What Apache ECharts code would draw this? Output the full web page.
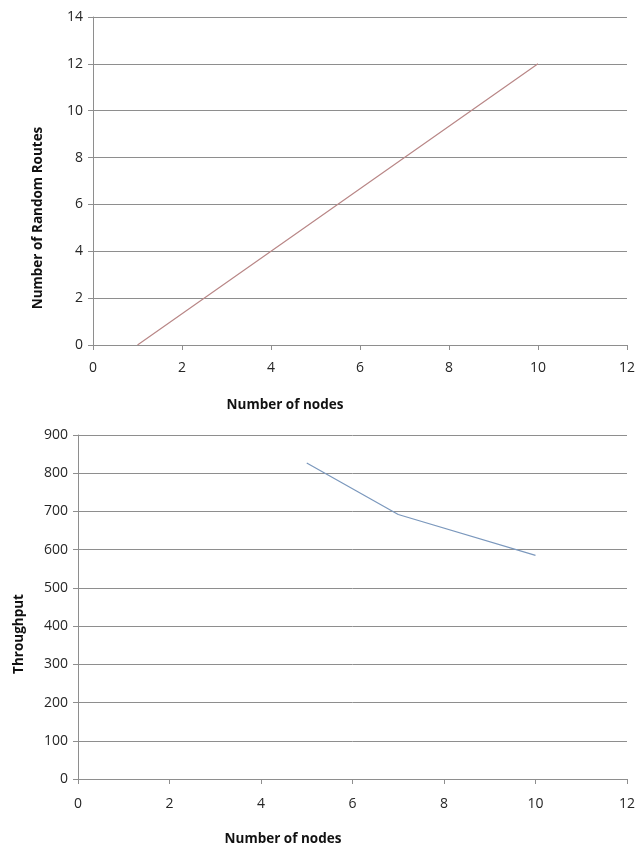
<!DOCTYPE html>
<html>
<head>
<meta charset="utf-8">
<script src="https://cdn.jsdelivr.net/npm/echarts@6/dist/echarts.min.js"></script>
<style>
html,body{margin:0;padding:0;background:#fff;}
#chart{width:638px;height:848px;}
</style>
</head>
<body>
<div id="chart"></div>
<script>
// Top chart: Number of Random Routes vs Number of nodes
const routesNodes = [1, 4, 7, 10];
const routesValues = [0, 4, 8, 12];
// Bottom chart: Throughput vs Number of nodes
const throughputNodes = [5, 7, 10];
const throughputValues = [827, 692, 585];

const topXTitle = 'Number of nodes';
const topYTitle = 'Number of Random Routes';
const botXTitle = 'Number of nodes';
const botYTitle = 'Throughput';

const FONT = 'Open Sans, Lato, sans-serif';
const gridColor = '#8e8e8e';

function xAxisCfg(gridIndex, margin) {
  return {
    type: 'value', gridIndex, min: 0, max: 12, interval: 2,
    axisLine: {show: true, lineStyle: {color: gridColor, width: 1}},
    axisTick: {show: true, length: 5, lineStyle: {color: gridColor}},
    axisLabel: {color: '#262626', fontSize: 14, fontFamily: FONT, margin: margin},
    splitLine: {show: false}
  };
}
function yAxisCfg(gridIndex, max, interval, margin) {
  return {
    type: 'value', gridIndex, min: 0, max, interval,
    axisLine: {show: true, lineStyle: {color: gridColor, width: 1}},
    axisTick: {show: true, length: 5, lineStyle: {color: gridColor}},
    axisLabel: {color: '#262626', fontSize: 14, fontFamily: FONT, margin: margin},
    splitLine: {show: true, lineStyle: {color: gridColor, width: 1}}
  };
}

const chart = echarts.init(document.getElementById('chart'), null, {renderer: 'canvas'});
chart.setOption({
  backgroundColor: '#fff',
  animation: false,
  grid: [
    {left: 93, top: 17, width: 538, height: 328, containLabel: false},
    {left: 78, top: 435, width: 550, height: 344, containLabel: false}
  ],
  xAxis: [xAxisCfg(0, 16), xAxisCfg(1, 18)],
  yAxis: [yAxisCfg(0, 14, 2, 10), yAxisCfg(1, 900, 100, 10)],
  series: [
    {
      type: 'line', xAxisIndex: 0, yAxisIndex: 0,
      data: routesNodes.map((x, i) => [x, routesValues[i]]),
      showSymbol: false, symbol: 'none',
      lineStyle: {color: '#b98787', width: 1.2}
    },
    {
      type: 'line', xAxisIndex: 1, yAxisIndex: 1,
      data: throughputNodes.map((x, i) => [x, throughputValues[i]]),
      showSymbol: false, symbol: 'none',
      lineStyle: {color: '#7b98bd', width: 1.2}
    }
  ],
  graphic: [
    {type: 'text', x: 285, y: 405,
      style: {text: topXTitle, font: 'bold 13.5px ' + FONT, fill: '#111', align: 'center', verticalAlign: 'middle'}},
    {type: 'text', x: 283, y: 839,
      style: {text: botXTitle, font: 'bold 13.5px ' + FONT, fill: '#111', align: 'center', verticalAlign: 'middle'}},
    {type: 'text', x: 38, y: 218, rotation: Math.PI / 2,
      style: {text: topYTitle, font: 'bold 13.5px ' + FONT, fill: '#111', align: 'center', verticalAlign: 'middle'}},
    {type: 'text', x: 19, y: 634, rotation: Math.PI / 2,
      style: {text: botYTitle, font: 'bold 13.5px ' + FONT, fill: '#111', align: 'center', verticalAlign: 'middle'}}
  ]
});
</script>
</body>
</html>
